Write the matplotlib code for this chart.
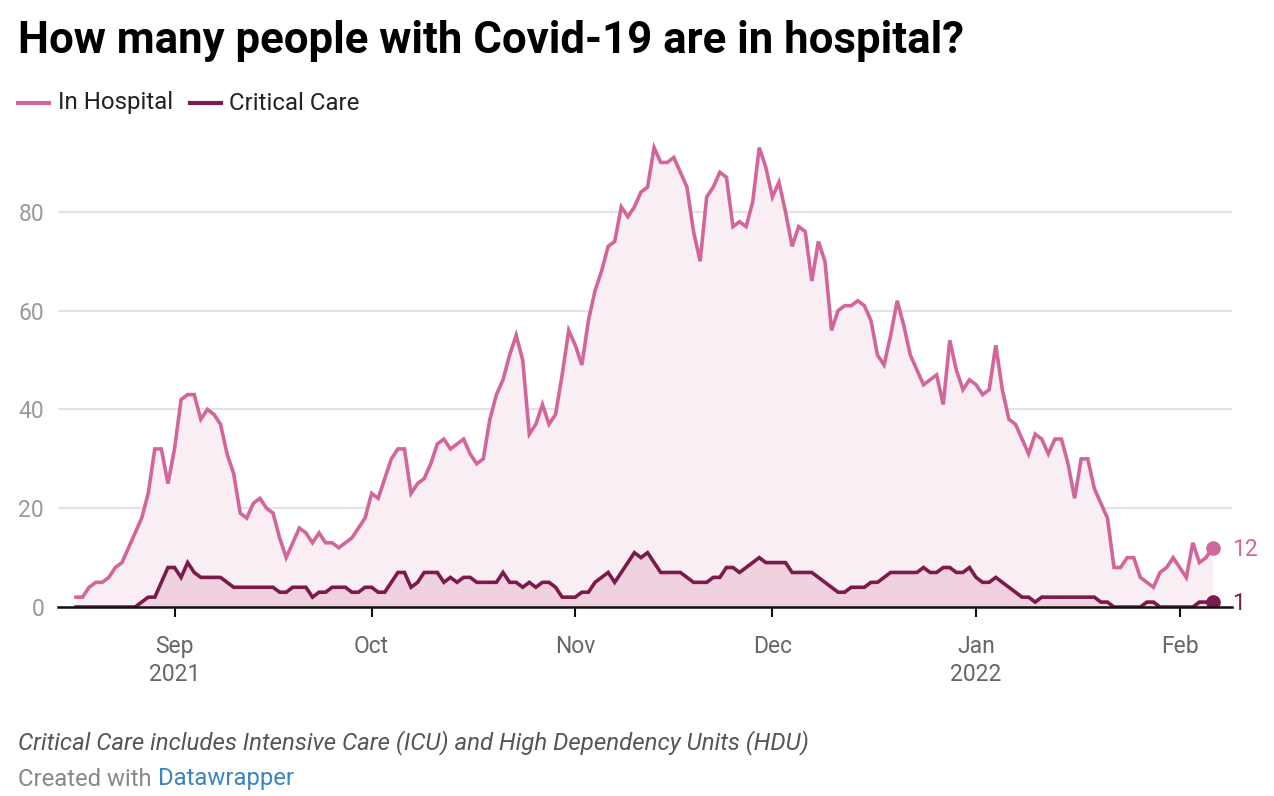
import pandas as pd
import matplotlib
matplotlib.use('Agg')
import matplotlib.pyplot as plt

plt.rcParams['font.family'] = ['Roboto', 'DejaVu Sans']

# daily values, 17 Aug 2021 - 6 Feb 2022
dates = pd.date_range('2021-08-17', periods=174, freq='D')

in_hospital = [
    2, 2, 4, 5, 5, 6, 8, 9, 12, 15, 18, 23, 32, 32, 25, 32, 42, 43, 43, 38,
    40, 39, 37, 31, 27, 19, 18, 21, 22, 20, 19, 14, 10, 13, 16, 15, 13, 15, 13, 13,
    12, 13, 14, 16, 18, 23, 22, 26, 30, 32, 32, 23, 25, 26, 29, 33, 34, 32, 33, 34,
    31, 29, 30, 38, 43, 46, 51, 55, 50, 35, 37, 41, 37, 39, 47, 56, 53, 49, 58, 64,
    68, 73, 74, 81, 79, 81, 84, 85, 93, 90, 90, 91, 88, 85, 76, 70, 83, 85, 88, 87,
    77, 78, 77, 82, 93, 89, 83, 86, 80, 73, 77, 76, 66, 74, 70, 56, 60, 61, 61, 62,
    61, 58, 51, 49, 55, 62, 57, 51, 48, 45, 46, 47, 41, 54, 48, 44, 46, 45, 43, 44,
    53, 44, 38, 37, 34, 31, 35, 34, 31, 34, 34, 29, 22, 30, 30, 24, 21, 18, 8, 8,
    10, 10, 6, 5, 4, 7, 8, 10, 8, 6, 13, 9, 10, 12,
]

critical_care = [
    0, 0, 0, 0, 0, 0, 0, 0, 0, 0, 1, 2, 2, 5, 8, 8, 6, 9, 7, 6,
    6, 6, 6, 5, 4, 4, 4, 4, 4, 4, 4, 3, 3, 4, 4, 4, 2, 3, 3, 4,
    4, 4, 3, 3, 4, 4, 3, 3, 5, 7, 7, 4, 5, 7, 7, 7, 5, 6, 5, 6,
    6, 5, 5, 5, 5, 7, 5, 5, 4, 5, 4, 5, 5, 4, 2, 2, 2, 3, 3, 5,
    6, 7, 5, 7, 9, 11, 10, 11, 9, 7, 7, 7, 7, 6, 5, 5, 5, 6, 6, 8,
    8, 7, 8, 9, 10, 9, 9, 9, 9, 7, 7, 7, 7, 6, 5, 4, 3, 3, 4, 4,
    4, 5, 5, 6, 7, 7, 7, 7, 7, 8, 7, 7, 8, 8, 7, 7, 8, 6, 5, 5,
    6, 5, 4, 3, 2, 2, 1, 2, 2, 2, 2, 2, 2, 2, 2, 2, 1, 1, 0, 0,
    0, 0, 0, 1, 1, 0, 0, 0, 0, 0, 0, 1, 1, 1,
]

month_ticks = pd.to_datetime(['2021-09-01', '2021-10-01', '2021-11-01',
                              '2021-12-01', '2022-01-01', '2022-02-01'])
month_labels = ['Sep\n2021', 'Oct', 'Nov', 'Dec', 'Jan\n2022', 'Feb']
y_ticks = [0, 20, 40, 60, 80]

pink = '#d2669a'
maroon = '#7d1a4c'
W, H = 1274, 796

fig = plt.figure(figsize=(12.74, 7.96), dpi=100)
ax = fig.add_axes([0.0455, 0.2374, 0.9215, 0.5958])

ax.fill_between(dates, in_hospital, color='#f9eef4', lw=0, zorder=1)
ax.fill_between(dates, critical_care, color='#f0d1e0', lw=0, zorder=2)
ax.plot(dates, in_hospital, color=pink, lw=2.6, zorder=4, solid_joinstyle='miter')
ax.plot(dates, critical_care, color=maroon, lw=2.6, zorder=5, solid_joinstyle='miter')

ax.plot(dates[-1], in_hospital[-1], 'o', color=pink, ms=9.5, zorder=6)
ax.plot(dates[-1], critical_care[-1], 'o', color=maroon, ms=9.5, zorder=6)
ax.annotate(str(in_hospital[-1]), (dates[-1], in_hospital[-1]), xytext=(14, -1),
            textcoords='offset points', va='center', ha='left', fontsize=16.5, color=pink)
ax.annotate(str(critical_care[-1]), (dates[-1], critical_care[-1]), xytext=(14, -1),
            textcoords='offset points', va='center', ha='left', fontsize=16.5, color=maroon,
            annotation_clip=False)

ax.set_xlim(dates[0] - pd.Timedelta(days=2.74), dates[0] + pd.Timedelta(days=175.95))
ax.set_ylim(0, 96)

ax.set_yticks(y_ticks)
ax.set_yticklabels([str(v) for v in y_ticks])
ax.tick_params(axis='y', length=0, pad=10, labelsize=16.5, labelcolor='#9a9a9a')
ax.grid(axis='y', color='#e3e3e3', lw=1.5, zorder=0)
ax.set_axisbelow(True)

ax.set_xticks(month_ticks)
ax.set_xticklabels(month_labels, linespacing=1.3)
ax.tick_params(axis='x', length=7, width=1.5, color='#111111', pad=13,
               labelsize=16.5, labelcolor='#666666')

for s in ['top', 'right', 'left']:
    ax.spines[s].set_visible(False)
ax.spines['bottom'].set_color('#111111')
ax.spines['bottom'].set_linewidth(1.8)
ax.spines['bottom'].set_zorder(7)

fig.text(0.014, 0.934, 'How many people with Covid-19 are in hospital?',
         fontsize=31.5, fontweight='bold', color='#000000', va='baseline')

# legend
ly = 1 - 103 / H
fig.add_artist(plt.Line2D([18 / W, 49 / W], [ly, ly], color=pink, lw=3))
fig.text(58 / W, ly, 'In Hospital', fontsize=17.3, va='center', color='#222222')
fig.add_artist(plt.Line2D([190 / W, 221 / W], [ly, ly], color=maroon, lw=3))
fig.text(229 / W, ly, 'Critical Care', fontsize=17.3, va='center', color='#222222')

fig.text(18 / W, 1 - 743 / H,
         'Critical Care includes Intensive Care (ICU) and High Dependency Units (HDU)',
         fontsize=17.3, style='italic', color='#555555', va='center')
t = fig.text(18 / W, 1 - 779 / H, 'Created with ', fontsize=17.2, color='#888888', va='center')
fig.canvas.draw()
bb = t.get_window_extent()
fig.text(bb.x1 / W, 1 - 779 / H, 'Datawrapper', fontsize=17.2, color='#3a84c4', va='center')

fig.savefig('out.png', dpi=100)
